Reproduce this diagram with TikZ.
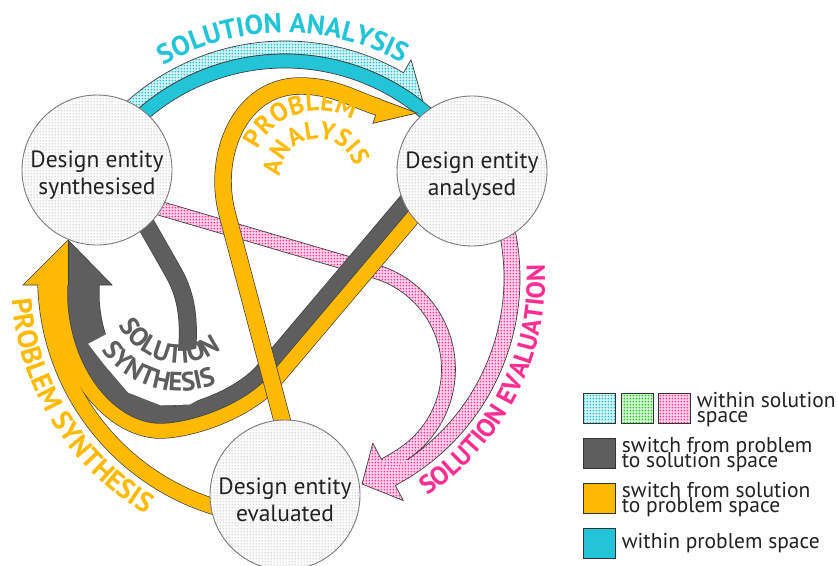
\documentclass[tikz,border=0pt]{standalone}
\usepackage{fontspec}
\setmainfont{PT Sans}
\usetikzlibrary{patterns,decorations.text,calc}

\definecolor{cyanC}{HTML}{22C4D8}
\definecolor{yelC}{HTML}{FDBA00}
\definecolor{grayC}{HTML}{5E5E5E}
\definecolor{pinkC}{HTML}{FF2E93}
\definecolor{pinkD}{HTML}{FF3399}
\definecolor{greenD}{HTML}{1ECC1E}
\definecolor{lineC}{HTML}{404040}
\definecolor{circD}{HTML}{A0A0A0}
\definecolor{circL}{HTML}{7A7A7A}
\definecolor{txtC}{HTML}{222222}

\pgfdeclarepatternformonly{bdots}{\pgfqpoint{0pt}{0pt}}{\pgfqpoint{3.3pt}{3.3pt}}{\pgfqpoint{3.3pt}{3.3pt}}{\pgfpathcircle{\pgfqpoint{1.65pt}{1.65pt}}{1.1pt}\pgfusepath{fill}}
\pgfdeclarepatternformonly{cdots}{\pgfqpoint{0pt}{0pt}}{\pgfqpoint{3pt}{3pt}}{\pgfqpoint{3pt}{3pt}}{\pgfpathcircle{\pgfqpoint{1.5pt}{1.5pt}}{0.8pt}\pgfusepath{fill}}

\newcommand\entfont{\fontsize{23.5}{27}\selectfont}
\newcommand\legfont{\fontsize{21.5}{15}\selectfont}
\newcommand\labSA{\fontsize{27.5}{30}\selectfont\bfseries}
\newcommand\labPS{\fontsize{28}{30}\selectfont\bfseries}
\newcommand\labSE{\fontsize{26}{30}\selectfont\bfseries}
\newcommand\labB{\fontsize{26}{28}\selectfont\bfseries}
\newcommand\labBB{\fontsize{25}{28}\selectfont\bfseries}
\newcommand\labC{\fontsize{26.5}{28}\selectfont\bfseries}

% band centre lines
\newcommand\pOY{($(O)+(100:239.5)$) arc[start angle=100,end angle=179,radius=239.5]}
\newcommand\pY{(432.1,193.9) -- (275.7,378.8) .. controls (249.3,410.5) and (191.7,430.5) .. (160,430.5) .. controls (117.4,430.5) and (64.8,380.4) .. (60.5,300.4) -- (60.5,283)}
\newcommand\pG{(420.7,184.3) -- (264.3,369.2) .. controls (240.7,397.6) and (188.4,415.5) .. (160,415.5) .. controls (122.6,415.5) and (79.2,369.6) .. (75.5,299.6) -- (75.5,283)}
\newcommand\pJ{(135,205) -- (172,270) .. controls (185,292) and (190,315) .. (187,352) .. controls (185,385) and (180,400.5) .. (160,400.5) .. controls (128,400.5) and (93.7,358.8) .. (90.5,298.8) -- (90.5,283)}
\newcommand\pLoop{(290,450) -- (227,213) .. controls (212,155) and (240,86) .. (300,86) .. controls (335,86) and (355,100) .. (378,107)}

\tikzset{
  bandline/.style={draw=lineC, line width=16.4, line cap=butt, line join=round},
  bandY/.style={draw=yelC, line width=15, line cap=butt, line join=round},
  bandG/.style={draw=grayC, line width=15, line cap=butt, line join=round},
  outl/.style={draw=lineC, line width=0.7, line join=round},
  pinkpat/.style={preaction={fill=pinkD!22}, pattern=bdots, pattern color=pinkD},
  cyanpat/.style={preaction={fill=cyanC!20}, pattern=bdots, pattern color=cyanC},
  greenpat/.style={preaction={fill=greenD!20}, pattern=bdots, pattern color=greenD},
  ent/.style={circle, minimum size=150, inner sep=0, draw=circL, line width=0.9,
    preaction={fill=white}, pattern=cdots, pattern color=circD},
  enttext/.style={align=center, font=\entfont, text=txtC, inner sep=0},
  lgbox/.style={draw=black!80, line width=1.1, minimum width=31.5, minimum height=30, inner sep=0, anchor=north west},
  lgtext/.style={anchor=base west, font=\legfont, text=txtC, inner sep=0},
}

\begin{document}
\begin{tikzpicture}[x=1pt,y=-1pt]
\useasboundingbox (0,0) rectangle (838,565);
\fill[white] (0,0) rectangle (838,565);
\coordinate (O) at (285,278);
\coordinate (C3) at (346.5,369.2);
\coordinate (TB) at (180,295);
\coordinate (PA) at (318,177);

% ---------- pink (solution evaluation) ----------
\path[pinkpat] (142.8,196) -- (377.2,264.7) arc[start angle=-73.6,end angle=56,radius=109]
  arc[start angle=56,end angle=62,radius=219] -- ($(O)+(62:205)$)
  arc[start angle=62,end angle=56,radius=205] arc[start angle=56,end angle=-73.6,radius=95]
  -- (138.8,209.4) -- cycle;
\path[pinkpat] ($(O)+(-15:235)$) arc[start angle=-15,end angle=62,radius=235]
  -- ($(O)+(62:252)$) -- ($(O)+(69.5:220)$) -- ($(O)+(62:187)$) -- ($(O)+(62:205)$) -- ($(O)+(62:219)$)
  arc[start angle=62,end angle=-15,radius=219] -- cycle;
\path[outl] (142.8,196) -- (377.2,264.7) arc[start angle=-73.6,end angle=56,radius=109];
\path[outl] ($(O)+(-15:219)$) arc[start angle=-15,end angle=56,radius=219];
\path[outl] (138.8,209.4) -- (373.3,278.1) arc[start angle=-73.6,end angle=56,radius=95]
  arc[start angle=56,end angle=62,radius=205] -- ($(O)+(62:187)$) -- ($(O)+(69.5:220)$)
  -- ($(O)+(62:252)$) -- ($(O)+(62:235)$) arc[start angle=62,end angle=-15,radius=235];

% ---------- cyan (solution analysis) ----------
\path[cyanpat, outl] ($(O)+(-140:237)$) arc[start angle=-140,end angle=-60,radius=237]
  -- ($(O)+(-60:252)$) -- ($(O)+(-52:224)$) arc[start angle=-52,end angle=-140,radius=224] -- cycle;
\path[fill=cyanC, outl] ($(O)+(-140:224)$) arc[start angle=-140,end angle=-44,radius=224]
  -- ($(O)+(-44:210)$) arc[start angle=-44,end angle=-140,radius=210] -- cycle;

% ---------- yellow (problem synthesis) ----------
\draw[bandline] \pOY;
\draw[bandline] \pY;
\draw[bandY] \pOY;
\draw[bandY] \pY;

% ---------- gray (solution synthesis) ----------
\draw[bandline] \pG;
\draw[bandline, line width=18] \pJ;
\draw[bandG] \pG;
\draw[bandG, line width=16.6] \pJ;

% left arrow head
\fill[yelC] (23,285) -- (68,240) -- (68,285) -- cycle;
\fill[grayC] (68,285) -- (68,240) -- (112,285) -- cycle;
\path[outl, line join=miter] (38,285) -- (23,285) -- (68,240) -- (112,285) -- (98.8,285);
\path[outl] (68,240) -- (68,285);

% white ground below the inner gray label
\fill[white] ($(TB)+(55:56)$) arc[start angle=55,end angle=152,radius=56]
  -- ($(TB)+(152:104)$) -- ($(TB)+(137:103)$) -- ($(TB)+(118:110.5)$) -- ($(TB)+(100:112)$)
  -- ($(TB)+(85:110)$) -- ($(TB)+(73:103)$) -- ($(TB)+(62:100)$) -- ($(TB)+(55:96)$) -- cycle;
\path[decorate, decoration={text along path, text={|\labC|SOLUTION}, text color=grayC, text align=center}]
  ($(TB)+(200:68)$) arc[start angle=200,end angle=6,radius=68];
\path[decorate, decoration={text along path, text={|\labC|SYNTHESIS}, text color=grayC, text align=center}]
  ($(TB)+(206:96)$) arc[start angle=206,end angle=6,radius=96];

% ---------- yellow loop (problem analysis) ----------
\draw[bandline, line width=17.4] \pLoop;
\draw[bandY, line width=16] \pLoop;
\fill[yelC] (380.3,99.3) -- (417,113) -- (373,123.3) -- (375.7,114.7) -- cycle;
\path[outl, line join=miter] (380.3,99.3) -- (417,113) -- (373,123.3) -- (375.7,114.7);

% ---------- curved labels ----------
\path[decorate, decoration={text along path, text={|\labSA|SOLUTION ANALYSIS}, text color=cyanC, text align=center}]
  ($(O)+(-150:245)$) arc[start angle=-150,end angle=-31,radius=245];
\path[decorate, decoration={text along path, text={|\labPS|PROBLEM SYNTHESIS}, text color=yelC, text align=center}]
  ($(O)+(210:274)$) arc[start angle=210,end angle=86,radius=274];
\path[decorate, decoration={text along path, text={|\labSE|SOLUTION EVALUATION}, text color=pinkC, text align=center}]
  ($(O)+(85:260)$) arc[start angle=85,end angle=-31,radius=260];
\path[decorate, decoration={text along path, text={|\labB|PROBLEM}, text color=yelC, text align=center}]
  ($(PA)+(-197:66)$) arc[start angle=-197,end angle=-17,radius=66];
\path[decorate, decoration={text along path, text={|\labBB|ANALYSIS}, text color=yelC, text align=center}]
  ($(PA)+(-217:38)$) arc[start angle=-217,end angle=22,radius=38];

% ---------- design entities ----------
\node[ent] (syn) at (97,170) {};
\node[ent] (ana) at (472,171) {};
\node[ent] (eva) at (285,495) {};
\node[enttext] (synt) at (97,175) {Design entity\\synthesised};
\node[enttext] (anat) at (472,176) {Design entity\\analysed};
\node[enttext] (evat) at (285,500) {Design entity\\evaluated};

% ---------- legend ----------
\node[lgbox, cyanpat] (lc) at (583.3,393.3) {};
\node[lgbox, greenpat] (lg) at (621,393.3) {};
\node[lgbox, pinkpat] (lp) at (658.3,393.3) {};
\node[lgtext] (t1a) at (696.7,407) {within solution};
\node[lgtext] (t1b) at (696.7,422) {space};
\node[lgbox, fill=grayC] (lgr) at (583.3,438.3) {};
\node[lgtext] (t2a) at (621.7,452.5) {switch from problem};
\node[lgtext] (t2b) at (621.7,467.5) {to solution space};
\node[lgbox, fill=yelC] (ly) at (583.3,483.3) {};
\node[lgtext] (t3a) at (621.7,497) {switch from solution};
\node[lgtext] (t3b) at (621.7,512) {to problem space};
\node[lgbox, fill=cyanC] (lcy) at (583.3,528.3) {};
\node[lgtext] (t4) at (621.7,548) {within problem space};
\end{tikzpicture}
\end{document}
